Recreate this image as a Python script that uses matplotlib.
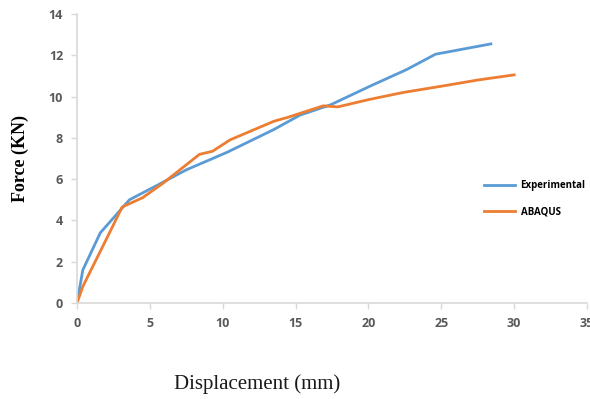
import matplotlib
matplotlib.use("Agg")
import matplotlib.pyplot as plt

exp_x = [0, 0.4, 1.6, 3.1, 3.6, 5.5, 7.5, 10.3, 13.5, 15.3, 17.4, 20.1, 22.6, 24.6, 28.4]
exp_y = [0, 1.6, 3.4, 4.6, 5.0, 5.7, 6.45, 7.3, 8.4, 9.1, 9.6, 10.5, 11.3, 12.05, 12.55]

aba_x = [0, 0.4, 2.3, 3.1, 4.5, 5.9, 8.4, 9.3, 10.5, 13.5, 14.5, 16.9, 17.9, 20.0, 22.4, 25.0, 27.5, 30.0]
aba_y = [0, 0.8, 3.5, 4.65, 5.1, 5.8, 7.2, 7.35, 7.9, 8.8, 9.0, 9.55, 9.5, 9.85, 10.2, 10.5, 10.8, 11.05]

xticks = [0, 5, 10, 15, 20, 25, 30, 35]
yticks = [0, 2, 4, 6, 8, 10, 12, 14]

fig = plt.figure(figsize=(5.9, 3.99), dpi=100)
ax = fig.add_axes([0.1305, 0.2406, 0.8645, 0.7244])
ax.plot(exp_x, exp_y, color="#5B9BD5", lw=2.0, label="Experimental")
ax.plot(aba_x, aba_y, color="#ED7D31", lw=2.0, label="ABAQUS")
ax.set_xlim(0, 35)
ax.set_ylim(0, 14)
ax.set_xticks(xticks)
ax.set_yticks(yticks)
for s in ["top", "right"]:
    ax.spines[s].set_visible(False)
for s in ["left", "bottom"]:
    ax.spines[s].set_color("#D9D9D9")
    ax.spines[s].set_linewidth(1.2)
ax.tick_params(axis="both", colors="#D9D9D9", length=4, width=1.0, direction="out",
               labelcolor="#595959", labelsize=9, pad=6)
for lab in ax.get_xticklabels() + ax.get_yticklabels():
    lab.set_fontweight("bold")
    lab.set_family("Open Sans")
ax.set_ylabel("Force (KN)", family="Liberation Serif", fontweight="bold", fontsize=13, labelpad=14)
fig.text(0.4364, 0.0376, "Displacement (mm)", family="Liberation Serif", fontsize=15,
         ha="center", va="center", color="#1a1a1a")
leg = ax.legend(loc="upper left", bbox_to_anchor=(0.78, 0.455), frameon=False,
                prop={"family": "Open Sans", "weight": "bold", "size": 7},
                handlelength=3.2, labelspacing=1.6, handletextpad=0.6)
fig.savefig("out.png", dpi=100)
